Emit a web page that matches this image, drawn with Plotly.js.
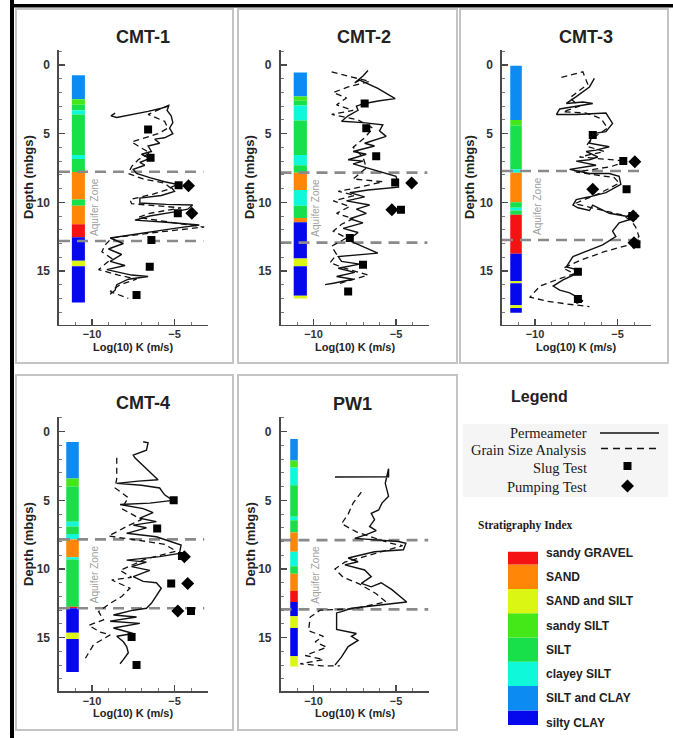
<!DOCTYPE html>
<html><head><meta charset="utf-8">
<script src="https://cdn.plot.ly/plotly-3.0.1.min.js"></script>
<style>html,body{margin:0;padding:0;background:#fff;}#chart{width:673px;height:738px;}</style>
</head><body><div id="chart"></div>
<script>
// ---------------- DATA ----------------
const wells = ['CMT-1','CMT-2','CMT-3','CMT-4','PW1'];
const stratNames = ['silty CLAY','SILT and CLAY','clayey SILT','SILT','sandy SILT','SAND and SILT','SAND','sandy GRAVEL'];
const stratColors = ['#0508ec','#0c8cf2','#10f8da','#18e04a','#44e818','#dcf614','#ff8606','#f41212'];

// stratigraphy layers: [top depth, bottom depth, class]
const strat_CMT1 = [[0.75,2.5,'SILT and CLAY'],[2.5,2.9,'sandy SILT'],[2.9,3.3,'SILT'],[3.3,3.6,'clayey SILT'],[3.6,6.55,'SILT'],[6.55,6.85,'clayey SILT'],[6.85,7.8,'SILT'],[7.8,9.8,'SAND'],[9.8,10.25,'SILT'],[10.25,11.6,'SAND'],[11.6,12.55,'sandy GRAVEL'],[12.55,14.25,'silty CLAY'],[14.25,14.65,'SAND and SILT'],[14.65,17.3,'silty CLAY']];
const strat_CMT2 = [[0.55,2.3,'SILT and CLAY'],[2.3,2.6,'sandy SILT'],[2.6,2.95,'SILT'],[2.95,4.05,'clayey SILT'],[4.05,6.55,'SILT'],[6.55,7.3,'clayey SILT'],[7.3,7.85,'SILT'],[7.85,9.1,'SAND'],[9.1,10.25,'clayey SILT'],[10.25,11.15,'SILT'],[11.15,11.45,'SAND'],[11.45,14.1,'silty CLAY'],[14.1,14.65,'SAND and SILT'],[14.65,16.8,'silty CLAY'],[16.8,17.0,'SAND and SILT']];
const strat_CMT3 = [[0.05,4.0,'SILT and CLAY'],[4.0,4.4,'sandy SILT'],[4.4,7.6,'SILT'],[7.6,7.85,'clayey SILT'],[7.85,10.0,'SAND'],[10.0,10.4,'SILT'],[10.4,10.6,'clayey SILT'],[10.6,10.9,'SILT'],[10.9,13.75,'sandy GRAVEL'],[13.75,15.75,'silty CLAY'],[15.75,15.9,'SAND and SILT'],[15.9,17.5,'silty CLAY'],[17.5,17.7,'SAND and SILT'],[17.7,18.05,'silty CLAY']];
const strat_CMT4 = [[0.75,3.4,'SILT and CLAY'],[3.4,4.0,'sandy SILT'],[4.0,6.55,'SILT'],[6.55,6.9,'clayey SILT'],[6.9,7.45,'SILT'],[7.45,7.85,'clayey SILT'],[7.85,9.15,'SAND'],[9.15,9.3,'clayey SILT'],[9.3,12.75,'SILT'],[12.75,12.85,'sandy GRAVEL'],[12.85,14.65,'silty CLAY'],[14.65,15.1,'SAND and SILT'],[15.1,17.5,'silty CLAY']];
const strat_PW1 = [[0.53,2.1,'SILT and CLAY'],[2.1,2.6,'sandy SILT'],[2.6,3.9,'clayey SILT'],[3.9,6.2,'SILT'],[6.2,6.45,'clayey SILT'],[6.45,7.35,'SILT'],[7.35,8.75,'SAND'],[8.75,9.8,'clayey SILT'],[9.8,10.35,'SILT'],[10.35,11.6,'SAND'],[11.6,12.4,'sandy GRAVEL'],[12.4,13.45,'silty CLAY'],[13.45,14.3,'SAND and SILT'],[14.3,16.35,'silty CLAY'],[16.35,17.1,'SAND and SILT']];

// Permeameter: [log10 K, depth]
const perm_CMT1 = [[-8.6,3.5],[-8.85,3.7],[-8.5,3.82],[-7.6,3.62],[-6.6,3.38],[-5.8,3.15],[-5.35,3.0],[-5.45,3.3],[-5.2,3.7],[-5.1,4.2],[-5.3,4.6],[-5.1,5.0],[-5.6,5.3],[-6.2,5.4],[-5.9,5.7],[-6.6,5.9],[-6.4,6.3],[-7.0,6.5],[-6.5,6.8],[-7.1,7.1],[-6.8,7.3],[-7.5,7.6],[-7.3,7.9],[-6.5,8.2],[-5.6,8.5],[-4.8,8.7],[-5.2,8.9],[-5.0,9.2],[-5.8,9.5],[-7.1,9.7],[-7.1,10.05],[-5.5,10.15],[-3.9,10.2],[-4.2,10.5],[-5.0,10.7],[-6.5,11.0],[-7.4,11.3],[-5.5,11.45],[-3.5,11.65],[-5.0,11.9],[-6.8,12.2],[-8.9,12.6],[-8.1,13.0],[-9.0,13.4],[-8.2,13.8],[-8.9,14.3],[-8.0,14.6],[-9.1,14.9],[-7.6,15.3],[-6.6,15.4],[-7.8,15.6],[-8.5,16.0],[-8.6,16.4],[-8.9,16.7]];
const perm_CMT2 = [[-6.7,0.4],[-7.0,0.8],[-7.5,1.3],[-7.2,1.1],[-6.1,1.7],[-5.05,2.45],[-6.0,2.6],[-6.9,2.8],[-7.4,3.0],[-7.3,3.3],[-7.9,3.7],[-8.3,4.1],[-7.0,4.2],[-5.8,4.35],[-6.0,4.8],[-5.6,5.2],[-6.9,5.7],[-6.3,5.9],[-7.6,6.3],[-6.8,6.5],[-7.9,6.9],[-7.0,7.0],[-7.6,7.2],[-6.4,7.6],[-5.6,7.9],[-5.0,8.1],[-4.9,8.5],[-4.85,8.9],[-6.7,9.1],[-7.8,9.3],[-6.9,9.6],[-8.0,9.9],[-6.6,10.2],[-7.4,10.5],[-6.8,10.8],[-7.8,11.2],[-7.0,11.5],[-8.2,11.9],[-7.3,12.2],[-7.9,12.75],[-6.1,13.7],[-8.5,13.95],[-8.3,14.3],[-7.2,14.5],[-8.5,14.8],[-7.5,15.1],[-8.6,15.4],[-7.6,15.6],[-8.8,15.9],[-9.3,16.0]];
const perm_CMT3 = [[-6.4,0.97],[-6.7,1.6],[-7.5,2.3],[-8.1,2.8],[-7.1,2.7],[-6.5,2.8],[-7.5,3.0],[-8.5,3.2],[-8.7,3.6],[-7.5,3.6],[-5.7,3.5],[-5.3,4.25],[-5.7,4.85],[-6.5,5.0],[-6.7,5.7],[-5.5,5.95],[-6.3,6.2],[-6.9,6.3],[-6.2,6.7],[-6.7,6.9],[-7.5,7.0],[-6.3,7.3],[-7.9,7.6],[-6.7,7.9],[-5.5,7.9],[-4.9,8.1],[-4.8,8.7],[-5.4,9.1],[-5.7,9.3],[-6.7,9.6],[-7.5,9.8],[-7.7,10.2],[-7.4,10.4],[-6.7,10.6],[-6.5,10.2],[-5.5,10.8],[-4.3,11.05],[-4.1,11.2],[-4.9,11.5],[-5.3,12.1],[-5.1,12.5],[-5.9,13.1],[-6.7,13.5],[-7.7,13.95],[-8.1,14.7],[-7.5,14.9],[-7.5,15.2],[-8.3,15.65],[-8.9,16.1],[-8.5,16.4],[-7.9,16.6],[-7.3,17.0],[-7.1,17.2],[-7.5,17.35]];
const perm_CMT4 = [[-6.9,0.73],[-6.6,0.8],[-6.7,1.35],[-7.5,1.7],[-7.4,1.9],[-6.0,3.5],[-7.2,3.6],[-8.5,3.76],[-7.0,3.9],[-5.9,4.1],[-5.6,4.6],[-5.1,5.0],[-6.5,5.2],[-8.3,5.3],[-6.9,5.6],[-6.3,5.9],[-7.1,6.3],[-6.1,6.55],[-7.5,6.8],[-6.7,7.0],[-7.9,7.4],[-6.1,7.65],[-4.6,8.25],[-4.7,8.86],[-5.9,9.1],[-7.9,9.35],[-6.7,9.5],[-7.6,9.83],[-6.5,10.1],[-7.5,10.55],[-6.9,10.9],[-6.1,11.0],[-5.8,11.4],[-6.4,12.5],[-6.7,12.86],[-7.5,13.0],[-8.7,13.35],[-7.3,13.5],[-8.9,13.8],[-7.1,13.96],[-8.7,14.3],[-7.5,14.7],[-8.5,14.9],[-8.1,15.3],[-7.9,15.65],[-7.8,16.1],[-8.1,16.6],[-8.3,16.9]];
const perm_PW1 = [[-8.7,3.3],[-7.5,3.3],[-5.45,3.28],[-5.45,2.7],[-5.6,3.4],[-5.65,3.76],[-5.45,4.7],[-5.85,5.2],[-6.05,5.7],[-6.5,5.95],[-6.3,6.4],[-6.6,6.9],[-6.2,7.2],[-6.8,7.5],[-7.5,7.77],[-4.85,8.0],[-4.4,8.13],[-4.55,8.6],[-6.3,8.74],[-7.9,9.2],[-7.3,9.47],[-8.1,9.7],[-6.9,10.07],[-6.5,10.56],[-7.1,11.05],[-6.5,11.3],[-5.9,11.0],[-5.25,11.5],[-4.35,12.4],[-5.9,12.6],[-7.7,12.86],[-8.3,13.1],[-8.6,13.2],[-8.6,14.4],[-7.4,14.7],[-7.7,14.9],[-7.3,15.2],[-7.9,15.65],[-8.3,16.4],[-8.7,17.0]];

// Grain size analysis: [log10 K, depth]
const grain_CMT1 = [[-5.3,2.9],[-5.9,3.2],[-6.6,3.6],[-5.6,4.1],[-5.4,4.6],[-6.0,5.0],[-7.6,5.6],[-7.2,5.9],[-6.5,6.4],[-7.2,6.9],[-7.6,7.4],[-7.8,7.9],[-6.9,8.3],[-5.6,8.6],[-5.2,9.0],[-6.3,9.4],[-7.7,9.8],[-7.6,10.1],[-4.6,10.4],[-6.5,10.8],[-7.2,11.1],[-5.0,11.5],[-3.2,11.8],[-6.2,12.2],[-8.8,12.6],[-9.2,13.1],[-9.4,13.6],[-8.8,14.1],[-9.6,14.9],[-8.4,15.3],[-7.3,15.6],[-8.3,16.0],[-8.9,16.5],[-7.8,17.0]];
const grain_CMT2 = [[-8.9,0.5],[-7.7,0.85],[-6.6,1.2],[-7.9,1.6],[-8.8,2.0],[-8.0,2.4],[-8.6,2.9],[-7.6,3.3],[-8.9,3.6],[-7.3,4.0],[-6.4,4.6],[-6.9,5.3],[-7.6,6.0],[-7.0,6.7],[-6.8,7.5],[-7.6,8.3],[-5.8,8.5],[-7.2,8.9],[-8.5,9.2],[-7.5,9.5],[-8.8,9.9],[-7.8,10.3],[-8.6,10.8],[-7.6,11.2],[-8.3,11.6],[-8.8,12.1],[-8.0,12.6],[-8.9,13.2],[-8.6,13.8],[-9.0,14.4],[-8.1,14.8],[-6.7,15.3],[-7.6,15.6],[-8.4,15.9]];
const grain_CMT3 = [[-8.4,0.9],[-7.1,0.5],[-6.8,1.4],[-7.9,2.4],[-7.3,3.0],[-8.3,3.4],[-6.9,3.5],[-6.0,3.9],[-5.6,4.6],[-6.6,5.4],[-6.9,5.9],[-5.8,6.3],[-7.3,6.7],[-4.4,7.0],[-5.4,7.4],[-7.5,7.8],[-5.2,8.2],[-4.9,8.6],[-6.0,9.3],[-7.6,10.1],[-6.2,10.5],[-4.8,10.9],[-4.2,11.3],[-3.9,11.8],[-3.7,12.5],[-4.3,13.1],[-5.8,13.6],[-7.2,14.2],[-8.3,14.8],[-7.6,15.2],[-8.6,15.6],[-9.7,16.1],[-10.3,16.9],[-9.3,17.2],[-8.1,17.4],[-6.7,17.6]];
const grain_CMT4 = [[-8.5,1.9],[-8.5,2.6],[-8.5,3.4],[-8.6,4.1],[-7.8,4.8],[-8.2,5.6],[-7.0,6.4],[-7.9,6.9],[-9.0,7.6],[-7.2,7.9],[-5.6,8.2],[-4.9,8.7],[-6.8,9.3],[-8.3,10.1],[-7.6,10.6],[-8.8,10.8],[-7.7,11.4],[-8.2,12.0],[-8.9,12.5],[-9.6,13.1],[-9.3,13.7],[-10.2,14.1],[-9.5,14.6],[-8.9,14.8],[-9.9,15.5],[-10.4,16.5]];
const grain_PW1 = [[-7.1,4.4],[-7.6,5.2],[-7.9,6.0],[-8.3,6.7],[-7.4,7.3],[-5.4,8.1],[-4.6,8.3],[-6.3,8.9],[-8.1,9.5],[-8.7,10.0],[-8.2,10.6],[-7.2,11.1],[-6.2,11.8],[-5.6,12.4],[-7.6,12.9],[-9.6,13.0],[-10.2,13.5],[-10.3,14.5],[-9.4,14.9],[-9.9,15.3],[-9.2,15.7],[-10.5,16.3],[-9.4,16.6],[-10.8,16.9],[-9.5,17.05],[-8.4,17.05]];

// Slug tests and pumping tests: [log10 K, depth]
const slug_CMT1 = [[-6.6,4.7],[-6.45,6.75],[-4.75,8.75],[-4.8,10.8],[-6.4,12.75],[-6.5,14.7],[-7.3,16.75]];
const slug_CMT2 = [[-6.9,2.8],[-6.8,4.6],[-6.2,6.65],[-5.05,8.55],[-4.7,10.55],[-7.8,12.6],[-7.0,14.55],[-7.9,16.5]];
const slug_CMT3 = [[-6.5,5.1],[-4.65,7.0],[-4.45,9.05],[-4.1,11.0],[-3.85,13.05],[-7.4,15.05],[-7.4,17.05]];
const slug_CMT4 = [[-5.05,5.0],[-6.05,7.05],[-4.55,9.05],[-5.2,11.05],[-4.0,13.05],[-7.6,14.95],[-7.3,17.0]];
const slug_PW1 = [];
const pump_CMT1 = [[-4.15,8.8],[-3.95,10.8]];
const pump_CMT2 = [[-4.05,8.6],[-5.25,10.55]];
const pump_CMT3 = [[-3.95,7.05],[-6.5,9.05],[-4.05,11.0],[-4.0,12.95]];
const pump_CMT4 = [[-4.4,9.1],[-4.2,11.05],[-4.8,13.05]];
const pump_PW1 = [];

const aquiferTop = [7.78,7.84,7.72,7.84,7.9];
const aquiferBottom = [12.82,12.94,12.75,12.86,12.94];

const legendItems = ['Permeameter','Grain Size Analysis','Slug Test','Pumping Test'];

// ---------------- LAYOUT CONFIG ----------------
const W = 673, H = 738;
const PX = x => x / W, PY = y => 1 - y / H;
const FONT = 'Liberation Sans, Arial, sans-serif';
const SERIF = 'Liberation Serif, Times New Roman, serif';

const strats = [strat_CMT1, strat_CMT2, strat_CMT3, strat_CMT4, strat_PW1];
const perms = [perm_CMT1, perm_CMT2, perm_CMT3, perm_CMT4, perm_PW1];
const grains = [grain_CMT1, grain_CMT2, grain_CMT3, grain_CMT4, grain_PW1];
const slugs = [slug_CMT1, slug_CMT2, slug_CMT3, slug_CMT4, slug_PW1];
const pumps = [pump_CMT1, pump_CMT2, pump_CMT3, pump_CMT4, pump_PW1];

const colExtent = [[-11.22,-10.43],[-11.2,-10.4],[-11.5,-10.8],[-11.56,-10.8],[-11.41,-10.95]];
const aqEnd = [-3.25,-3.1,-3.5,-3.2,-3.05];
const panelBoxes = [[16,9,233,363],[238,9,457,363],[460,9,668,363],[16,375,233,730],[238,375,457,730]];
const plotX = [[59,207.5],[280.5,429],[502,650.5],[59,207.5],[280.5,429]];
const plotY = [[49.9,324.5],[49.9,324.5],[49.9,324.5],[416.6,691.2],[416.6,691.2]];
const titlePos = [[143.3,37],[364.2,37],[585.8,37],[143.3,403.3],[352.5,404]];
const yTitlePos = [[28,177],[249,177],[469,177],[28,544],[250,544]];
const xTitlePos = [[133.3,346.7],[355,346.7],[576,346.7],[133.3,713.3],[355,713.3]];

const colorOf = name => stratColors[stratNames.indexOf(name)];

const traces = [];
const layout = {
  width: W, height: H, margin: {l:0,r:0,t:0,b:0},
  paper_bgcolor: '#fff', plot_bgcolor: 'rgba(0,0,0,0)',
  showlegend: false, barmode: 'overlay', hovermode: false,
  font: {family: FONT, color: '#222'},
  shapes: [], annotations: []
};

// frame lines
layout.shapes.push({type:'rect', xref:'paper', yref:'paper', x0:PX(10), x1:PX(14), y0:0, y1:1, fillcolor:'#000', line:{width:0}, layer:'below'});
layout.shapes.push({type:'rect', xref:'paper', yref:'paper', x0:PX(10), x1:1, y0:PY(7.5), y1:PY(4), fillcolor:'#000', line:{width:0}, layer:'below'});

wells.forEach((w, i) => {
  const n = i + 1;
  const xa = n === 1 ? 'x' : 'x' + n, ya = n === 1 ? 'y' : 'y' + n;
  const b = panelBoxes[i];
  layout.shapes.push({type:'rect', xref:'paper', yref:'paper', x0:PX(b[0]), x1:PX(b[2]), y0:PY(b[3]), y1:PY(b[1]),
    fillcolor:'#fff', line:{color:'#c4c4c4', width:2}, layer:'below'});

  const axCommon = {showgrid:false, zeroline:false, showline:true, linecolor:'#4a4a4a', linewidth:1.6,
    ticks:'inside', ticklen:6, tickwidth:1.3, tickcolor:'#4a4a4a',
    minor:{dtick:1, ticks:'inside', ticklen:3, tickwidth:1, tickcolor:'#777', showgrid:false}};
  layout[n === 1 ? 'xaxis' : 'xaxis' + n] = Object.assign({}, axCommon, {
    domain:[PX(plotX[i][0]), PX(plotX[i][1])], anchor: ya, range:[-12,-3], tick0:0, dtick:5,
    ticklabelstandoff: -1,
    tickfont:{size:11, family:FONT, weight:'bold', color:'#333'}});
  layout[n === 1 ? 'yaxis' : 'yaxis' + n] = Object.assign({}, axCommon, {
    domain:[PY(plotY[i][1]), PY(plotY[i][0])], anchor: xa, range:[18.9,-1.1], tick0:0, dtick:5,
    ticklabelstandoff: 5,
    tickfont:{size:12, family:FONT, weight:'bold', color:'#333'}});

  // stratigraphy column
  const L = strats[i], c = colExtent[i];
  traces.push({type:'bar', xaxis:xa, yaxis:ya, orientation:'v',
    x: L.map(() => (c[0] + c[1]) / 2), y: L.map(l => l[1] - l[0]), base: L.map(l => l[0]),
    width: c[1] - c[0], marker:{color: L.map(l => colorOf(l[2])), line:{width:0}}, hoverinfo:'skip'});

  // aquifer zone lines
  traces.push({type:'scatter', mode:'lines', xaxis:xa, yaxis:ya,
    x:[-12, aqEnd[i], null, -12, aqEnd[i]], y:[aquiferTop[i], aquiferTop[i], null, aquiferBottom[i], aquiferBottom[i]],
    line:{color:'#8a8a8a', width:2.6, dash:'11px,7px'}, hoverinfo:'skip'});

  // grain size (dashed)
  traces.push({type:'scatter', mode:'lines', xaxis:xa, yaxis:ya,
    x: grains[i].map(p => p[0]), y: grains[i].map(p => p[1]),
    line:{color:'#111', width:1.3, dash:'6px,4px'}, hoverinfo:'skip'});
  // permeameter (solid)
  traces.push({type:'scatter', mode:'lines', xaxis:xa, yaxis:ya,
    x: perms[i].map(p => p[0]), y: perms[i].map(p => p[1]),
    line:{color:'#111', width:1.4}, hoverinfo:'skip'});
  // slug tests
  if (slugs[i].length) traces.push({type:'scatter', mode:'markers', xaxis:xa, yaxis:ya,
    x: slugs[i].map(p => p[0]), y: slugs[i].map(p => p[1]),
    marker:{symbol:'square', size:8, color:'#000'}, hoverinfo:'skip'});
  // pumping tests
  if (pumps[i].length) traces.push({type:'scatter', mode:'markers', xaxis:xa, yaxis:ya,
    x: pumps[i].map(p => p[0]), y: pumps[i].map(p => p[1]),
    marker:{symbol:'diamond', size:10, color:'#000'}, hoverinfo:'skip'});

  // annotations
  layout.annotations.push({xref:'paper', yref:'paper', x:PX(titlePos[i][0]), y:PY(titlePos[i][1]),
    text:w, showarrow:false, xanchor:'center', yanchor:'middle', font:{size:18, family:FONT, weight:'bold', color:'#222'}});
  layout.annotations.push({xref:'paper', yref:'paper', x:PX(yTitlePos[i][0]), y:PY(yTitlePos[i][1]),
    text:'Depth (mbgs)', textangle:-90, showarrow:false, xanchor:'center', yanchor:'middle', font:{size:13, family:FONT, weight:'bold', color:'#222'}});
  layout.annotations.push({xref:'paper', yref:'paper', x:PX(xTitlePos[i][0]), y:PY(xTitlePos[i][1]),
    text:'Log(10) K (m/s)', showarrow:false, xanchor:'center', yanchor:'middle', font:{size:11, family:FONT, weight:'bold', color:'#222'}});
  layout.annotations.push({xref:xa, yref:ya, x:-9.85, y:(aquiferTop[i] + aquiferBottom[i]) / 2,
    text:'Aquifer Zone', textangle:-90, showarrow:false, xanchor:'center', yanchor:'middle', font:{size:10, family:FONT, color:'#a0a0a0'}});
});

// ---------------- LEGEND ----------------
layout.annotations.push({xref:'paper', yref:'paper', x:PX(570), y:PY(396), text:'Legend', showarrow:false,
  font:{size:16, family:FONT, weight:'bold', color:'#222'}});
layout.shapes.push({type:'rect', xref:'paper', yref:'paper', x0:PX(463), x1:PX(668), y0:PY(497), y1:PY(424),
  fillcolor:'#f5f5f5', line:{width:0}, layer:'below'});
const legY = [433, 450, 467.5, 487];
legendItems.forEach((t, k) => layout.annotations.push({xref:'paper', yref:'paper', x:PX(589), y:PY(legY[k]),
  text:t, showarrow:false, xanchor:'right', yanchor:'middle', font:{size:14.5, family:SERIF, color:'#1a1a1a'}}));

// legend samples on a hidden pixel-scaled axis
layout.xaxis7 = {domain:[PX(460), PX(670)], range:[460,670], visible:false, anchor:'y7', fixedrange:true};
layout.yaxis7 = {domain:[PY(500), PY(420)], range:[500,420], visible:false, anchor:'x7', fixedrange:true};
traces.push({type:'scatter', mode:'lines', xaxis:'x7', yaxis:'y7', x:[600,659], y:[433,433], line:{color:'#111', width:1.6}, hoverinfo:'skip'});
traces.push({type:'scatter', mode:'lines', xaxis:'x7', yaxis:'y7', x:[601,661], y:[448.5,448.5], line:{color:'#111', width:1.4, dash:'7px,5px'}, hoverinfo:'skip'});
traces.push({type:'scatter', mode:'markers', xaxis:'x7', yaxis:'y7', x:[627.5], y:[466], marker:{symbol:'square', size:8, color:'#000'}, hoverinfo:'skip'});
traces.push({type:'scatter', mode:'markers', xaxis:'x7', yaxis:'y7', x:[627.5], y:[486], marker:{symbol:'diamond', size:10, color:'#000'}, hoverinfo:'skip'});

// stratigraphy index colour bar
layout.annotations.push({xref:'paper', yref:'paper', x:PX(574), y:PY(533.5), text:'Stratigraphy Index', showarrow:false,
  font:{size:11.5, family:SERIF, weight:'bold', color:'#1a1a1a'}});
layout.xaxis6 = {domain:[PX(508), PX(538)], range:[0,1], visible:false, anchor:'y6', fixedrange:true};
layout.yaxis6 = {domain:[PY(725), PY(551.7)], range:[-0.1,7.03], anchor:'x6', side:'right', showline:false, showgrid:false, zeroline:false,
  ticks:'', tickvals: stratNames.map((s, k) => k), ticktext: stratNames, ticklabelstandoff:7,
  tickfont:{size:12, family:FONT, weight:'bold', color:'#222'}, fixedrange:true};
traces.push({type:'bar', xaxis:'x6', yaxis:'y6', x: stratNames.map(() => 0.5), y: stratNames.map(() => 1),
  base: stratNames.map((s, k) => k - 0.5), width:1, marker:{color: stratColors, line:{width:0}}, hoverinfo:'skip'});

Plotly.newPlot('chart', traces, layout, {staticPlot:true, displayModeBar:false});
</script>
</body></html>
